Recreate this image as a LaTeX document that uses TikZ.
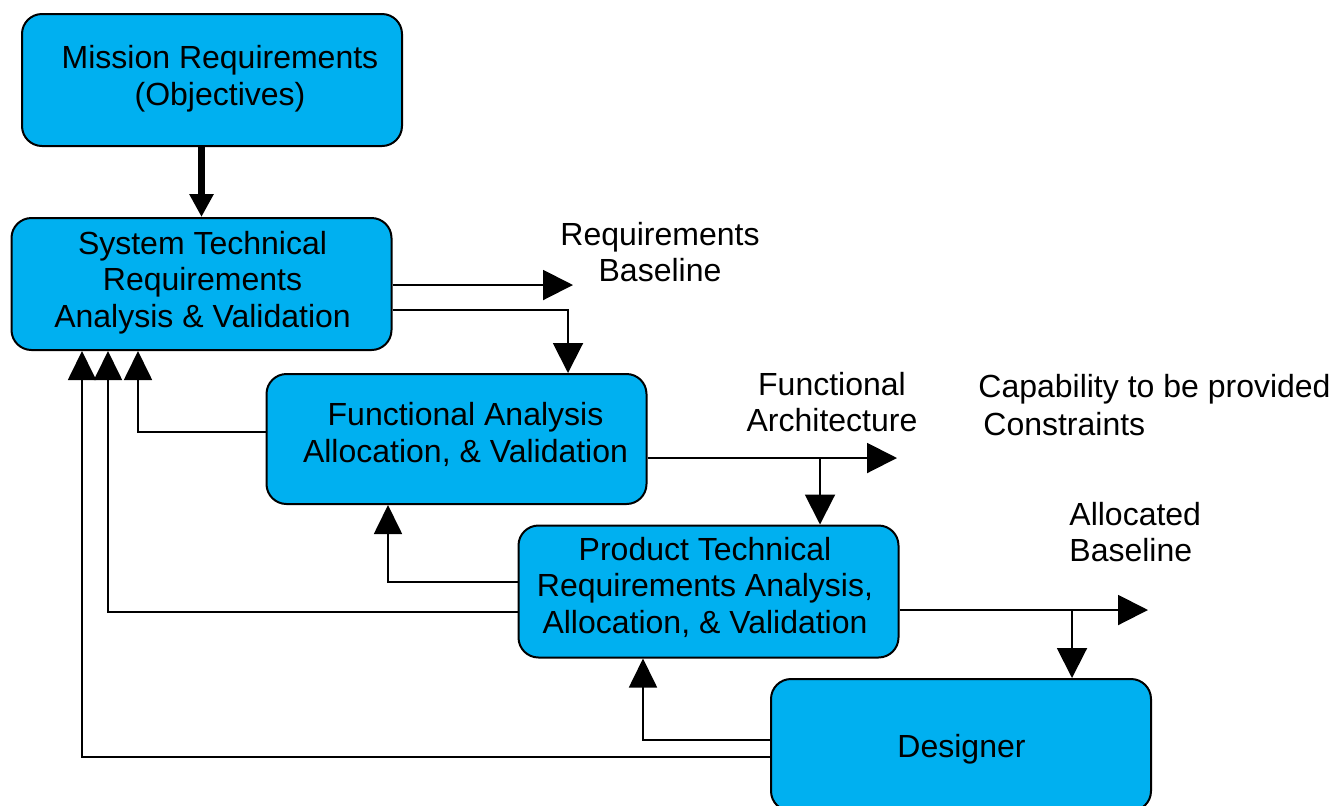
\documentclass[tikz,border=0pt]{standalone}
\usepackage{fontspec}
\setmainfont{Liberation Sans}
\usetikzlibrary{arrows.meta}
\definecolor{boxblue}{HTML}{00B0F0}
\begin{document}
\begin{tikzpicture}[x=0.5pt,y=-0.5pt,
  box/.style={draw=black, line width=1pt, fill=boxblue, rounded corners=10pt,
    minimum width=190pt, minimum height=66pt, inner sep=0pt},
  txt/.style={font=\fontsize{16}{18.25}\selectfont, align=center, inner sep=0pt, text=black},
  conn/.style={line width=1pt, -{Triangle[length=15pt,width=15pt]}},
  thickconn/.style={line width=3.3pt, -{Triangle[length=11.5pt,width=11.5pt]}},
  fb/.style={line width=0.9pt, -{Triangle[length=14.5pt,width=14pt]}}]
\useasboundingbox (0,0) rectangle (1333,805);
\clip (0,0) rectangle (1333,805);
\fill[white] (0,0) rectangle (1333,805);
% boxes
\node[box] (m) at (212,80) {};
\node[box] (s) at (201.5,284) {};
\node[box, minimum height=65pt] (f) at (456.5,439) {};
\node[box] (p) at (708.5,591.5) {};
\node[box] (d) at (961,745) {};
% box texts
\node[txt] (mt) at (220,78.5) {Mission Requirements\\(Objectives)};
\node[txt] (st) at (202.5,282.5) {System Technical\\Requirements\\Analysis \& Validation};
\node[txt] (ft) at (465.5,434.5) {Functional Analysis\\Allocation, \& Validation};
\node[txt] (pt) at (705,587) {Product Technical\\Requirements Analysis,\\Allocation, \& Validation};
\node[txt] (dt) at (961.5,749) {Designer};
% free labels
\node[txt] (rbl) at (660,252) {Requirements\\Baseline};
\node[txt] (fal) at (832,402) {Functional\\Architecture};
\node[txt, align=left, anchor=west, font=\fontsize{16}{19}\selectfont] (cap) at (978,405) {Capability to be provided\\\hspace{2.5pt}Constraints};
\node[txt, align=left, anchor=west] (alb) at (1069,532) {Allocated\\Baseline};
% coordinates
\coordinate (rb) at (573,285);
\coordinate (b1) at (568,310);
\coordinate (fa) at (897,458);
\coordinate (fbr) at (820,458);
\coordinate (pa) at (1148,610);
\coordinate (pbr) at (1072,610);
\coordinate (c1) at (138,432);
\coordinate (c2) at (388,582);
\coordinate (c3) at (108,612);
\coordinate (c4) at (643,740);
\coordinate (c5) at (82,757);
% forward connectors
\draw[thickconn] (m.south -| s.north) -- (s.north);
\draw[conn] (s.east |- rb) -- (rb);
\draw[conn] (s.east |- b1) -| (f.north -| b1);
\draw[conn] (f.east |- fa) -- (fa);
\draw[conn] (fbr) -- (p.north -| fbr);
\draw[conn] (p.east |- pa) -- (pa);
\draw[conn] (pbr) -- (d.north -| pbr);
% feedback connectors
\draw[fb] (f.west |- c1) -| (s.south -| c1);
\draw[fb] (p.west |- c2) -| (f.south -| c2);
\draw[fb] (p.west |- c3) -| (s.south -| c3);
\draw[fb] (d.west |- c4) -| (p.south -| c4);
\draw[fb] (d.west |- c5) -| (s.south -| c5);
\end{tikzpicture}
\end{document}
